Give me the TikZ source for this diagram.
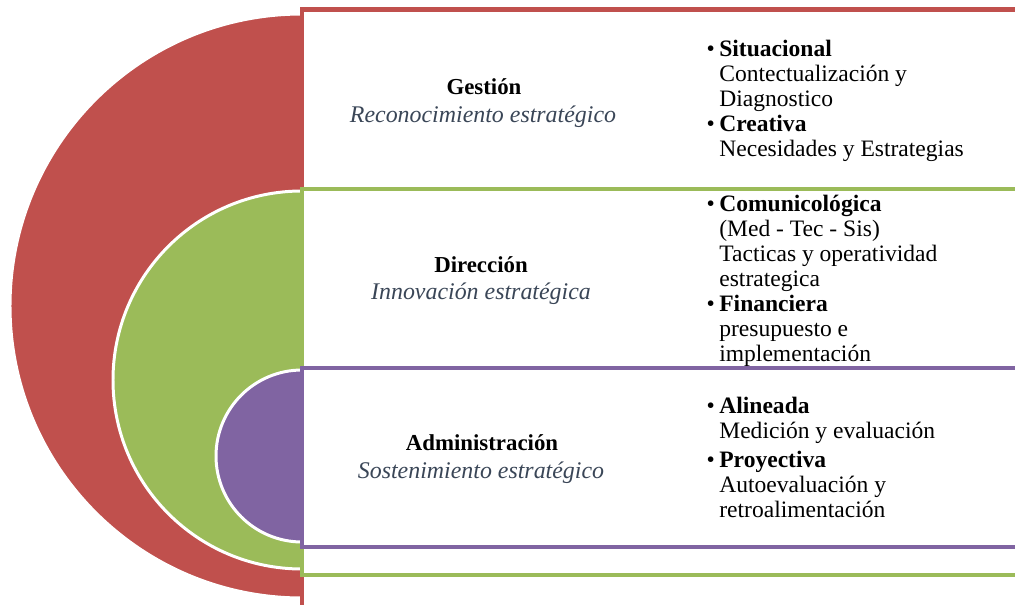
\documentclass[tikz,border=0pt]{standalone}
\usepackage{fontspec}
\setmainfont{Liberation Serif}
\usepackage{tikz}
\usetikzlibrary{positioning}
\definecolor{gestionColor}{HTML}{C0504D}
\definecolor{direccionColor}{HTML}{9BBB59}
\definecolor{administracionColor}{HTML}{8064A2}
\definecolor{subtitleColor}{HTML}{3A4657}
\tikzstyle{plano} = [x = .02cm, y = -.02cm, every node/.style={font=\fontsize{13.4}{14.2}\selectfont}]
\tikzstyle{bandStyle} = [fill=white, line width=2.3pt]
\tikzstyle{arcStyle} = [draw=white, line width=1.7pt]
\tikzstyle{titleText} = [font=\fontsize{13}{14.2}\selectfont\bfseries, anchor=base]
\tikzstyle{subtitleText} = [font=\fontsize{13.6}{14.2}\selectfont\itshape, text=subtitleColor, anchor=base]
\tikzstyle{listText} = [align=left, anchor=north west, inner sep=0pt]
\newcommand{\vineta}{\llap{\textbullet\hspace{2.5pt}}}
\newcommand{\bandShift}[3]{\filldraw [bandStyle, draw=#1] (302, #2) rectangle (1100, #3);}
\newcommand{\arcShift}[3]{\filldraw [arcStyle, fill=#1] (302, #2) circle (#3);}

\begin{document}
\begin{tikzpicture}[plano]
    \useasboundingbox (0,0) rectangle (1015,605);
    \clip (0,0) rectangle (1015,605);
    \arcShift{gestionColor}{306}{292}
    \bandShift{gestionColor}{9.5}{700}
    \arcShift{direccionColor}{380}{189}
    \bandShift{direccionColor}{189}{575}
    \arcShift{administracionColor}{456}{86}
    \bandShift{administracionColor}{368}{547}
    \node [titleText] (gestion) at (484,94) {Gestión};
    \node [subtitleText] (gestionSub) at (483,122) {Reconocimiento estratégico};
    \node [titleText] (direccion) at (481,272) {Dirección};
    \node [subtitleText] (direccionSub) at (481,299) {Innovación estratégica};
    \node [titleText] (administracion) at (482,450) {Administración};
    \node [subtitleText] (administracionSub) at (481,478) {Sostenimiento estratégico};
    \node [listText] (gestionList) at (719,40) {\vineta\textbf{Situacional}\\Contectualización y\\Diagnostico\\\vineta\textbf{Creativa}\\Necesidades y Estrategias};
    \node [listText] (direccionList) at (719,195) {\vineta\textbf{Comunicológica}\\(Med - Tec - Sis)\\Tacticas y operatividad\\estrategica\\\vineta\textbf{Financiera}\\presupuesto e\\implementación};
    \node [listText] (administracionList) at (719,397) {\vineta\textbf{Alineada}\\Medición y evaluación\\[2pt]\vineta\textbf{Proyectiva}\\Autoevaluación y\\retroalimentación};
\end{tikzpicture}
\end{document}
